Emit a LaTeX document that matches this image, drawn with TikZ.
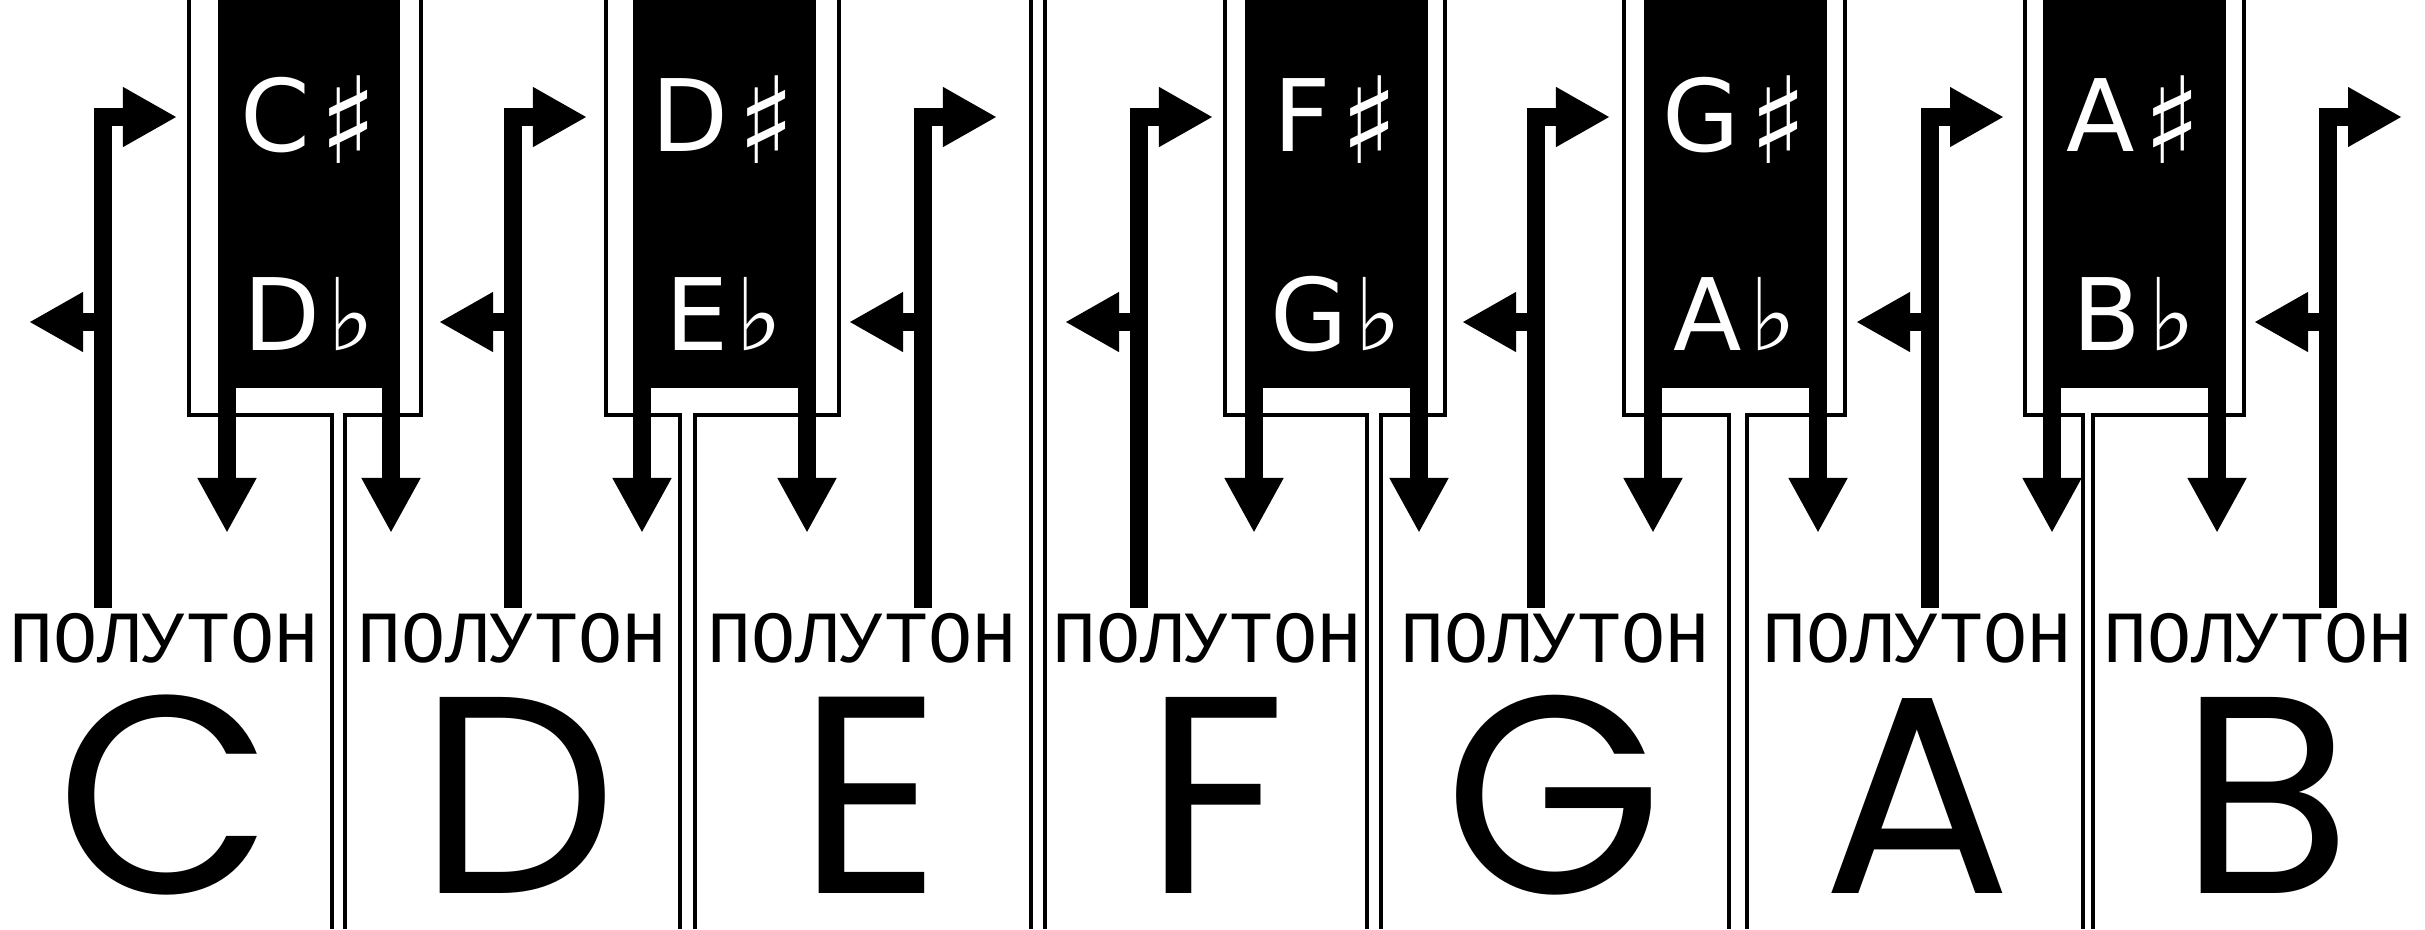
\documentclass[tikz,border=0pt]{standalone}
\usepackage{fontspec}
\usetikzlibrary{arrows.meta}
\setmainfont{DejaVu Sans}
\newfontfamily\fonteletra{Poppins}
\newfontfamily\fontetecla{DejaVu Sans}
\newfontfamily\fontemono{Liberation Mono}

\begin{document}
\begin{tikzpicture}[x=0.01cm, y=-0.01cm,
    contorno/.style={line width=0.4mm},
    perna/.style={line width=1.8mm, -{Triangle[length=5.5mm,width=5.5mm]}},
    meio/.style={line width=1.75mm, -{Triangle[length=5.4mm,width=5.6mm]}},
    nota/.style={anchor=base, inner sep=0pt, text=white, font=\fontetecla\fontsize{28.45}{30}\selectfont},
    rotulo/.style={anchor=base, inner sep=0pt, font=\fontemono\fontsize{20.9}{22}\selectfont},
    letra/.style={anchor=base, inner sep=0pt, font=\fonteletra\fontsize{80}{80}\selectfont}]
    % Definição dos textos
    \def\semi{ПОЛУТОН}
    \def\sus{\hspace{0.09em}\raisebox{-0.12em}{\scalebox{1.2}{♯}}}
    \def\bem{\hspace{0.07em}♭}

    \useasboundingbox (0,0) rectangle (2425,929);

    % Contornos das teclas brancas
    \draw[contorno] (189,0) -- (189,415) -- (332,415) -- (332,929);
    \draw[contorno] (345,929) -- (345,415) -- (421,415) -- (421,0);
    \draw[contorno] (606,0) -- (606,415) -- (680,415) -- (680,929);
    \draw[contorno] (695,929) -- (695,415) -- (839,415) -- (839,0);
    \draw[contorno] (1031,0) -- (1031,929);
    \draw[contorno] (1045,0) -- (1045,929);
    \draw[contorno] (1225,0) -- (1225,415) -- (1367,415) -- (1367,929);
    \draw[contorno] (1381,929) -- (1381,415) -- (1445,415) -- (1445,0);
    \draw[contorno] (1624,0) -- (1624,415) -- (1729,415) -- (1729,929);
    \draw[contorno] (1747,929) -- (1747,415) -- (1845,415) -- (1845,0);
    \draw[contorno] (2025,0) -- (2025,415) -- (2083,415) -- (2083,929);
    \draw[contorno] (2093,929) -- (2093,415) -- (2244,415) -- (2244,0);

    % Teclas pretas
    \fill (218,0) rectangle (400,388);
    \fill (633,0) rectangle (816,388);
    \fill (1245,0) rectangle (1428,388);
    \fill (1644,0) rectangle (1827,388);
    \fill (2043,0) rectangle (2226,388);

    % Pernas das teclas pretas
    \draw[perna] (227,380) -- (227,533);
    \draw[perna] (391,380) -- (391,533);
    \draw[perna] (642,380) -- (642,533);
    \draw[perna] (807,380) -- (807,533);
    \draw[perna] (1254,380) -- (1254,533);
    \draw[perna] (1419,380) -- (1419,533);
    \draw[perna] (1653,380) -- (1653,533);
    \draw[perna] (1818,380) -- (1818,533);
    \draw[perna] (2052,380) -- (2052,533);
    \draw[perna] (2217,380) -- (2217,533);

    % Setas de meio tom
    \draw[meio] (103,608) -- (103,117) -- (177,117);
    \draw[meio] (103,322) -- (29,322);
    \draw[meio] (513,608) -- (513,117) -- (587,117);
    \draw[meio] (513,322) -- (439,322);
    \draw[meio] (923,608) -- (923,117) -- (997,117);
    \draw[meio] (923,322) -- (849,322);
    \draw[meio] (1139,608) -- (1139,117) -- (1213,117);
    \draw[meio] (1139,322) -- (1065,322);
    \draw[meio] (1536,608) -- (1536,117) -- (1610,117);
    \draw[meio] (1536,322) -- (1462,322);
    \draw[meio] (1930,608) -- (1930,117) -- (2004,117);
    \draw[meio] (1930,322) -- (1856,322);
    \draw[meio] (2328,608) -- (2328,117) -- (2402,117);
    \draw[meio] (2328,322) -- (2254,322);

    % Nomes das teclas pretas
    \node[nota] (cs) at (309,151) {C\sus};
    \node[nota] (db) at (309,350) {D\bem};
    \node[nota] (ds) at (724,151) {D\sus};
    \node[nota] (eb) at (724,350) {E\bem};
    \node[nota] (fs) at (1336,151) {F\sus};
    \node[nota] (gb) at (1336,350) {G\bem};
    \node[nota] (gs) at (1735,151) {G\sus};
    \node[nota] (ab) at (1735,350) {A\bem};
    \node[nota] (as) at (2134,151) {A\sus};
    \node[nota] (bb) at (2134,350) {B\bem};

    % Rótulos de meio tom
    \node[rotulo] (s1) at (164,662) {\semi};
    \node[rotulo] (s2) at (512,662) {\semi};
    \node[rotulo] (s3) at (862,662) {\semi};
    \node[rotulo] (s4) at (1207,662) {\semi};
    \node[rotulo] (s5) at (1555,662) {\semi};
    \node[rotulo] (s6) at (1917,662) {\semi};
    \node[rotulo] (s7) at (2258,662) {\semi};

    % Notas das teclas brancas
    \node[letra] (c) at (165,893) {C};
    \node[letra] (d) at (518,893) {D};
    \node[letra] (e) at (870,893) {E};
    \node[letra] (f) at (1215,893) {F};
    \node[letra] (g) at (1554,893) {G};
    \node[letra] (a) at (1917,893) {A};
    \node[letra] (b) at (2266,893) {B};
\end{tikzpicture}
\end{document}
